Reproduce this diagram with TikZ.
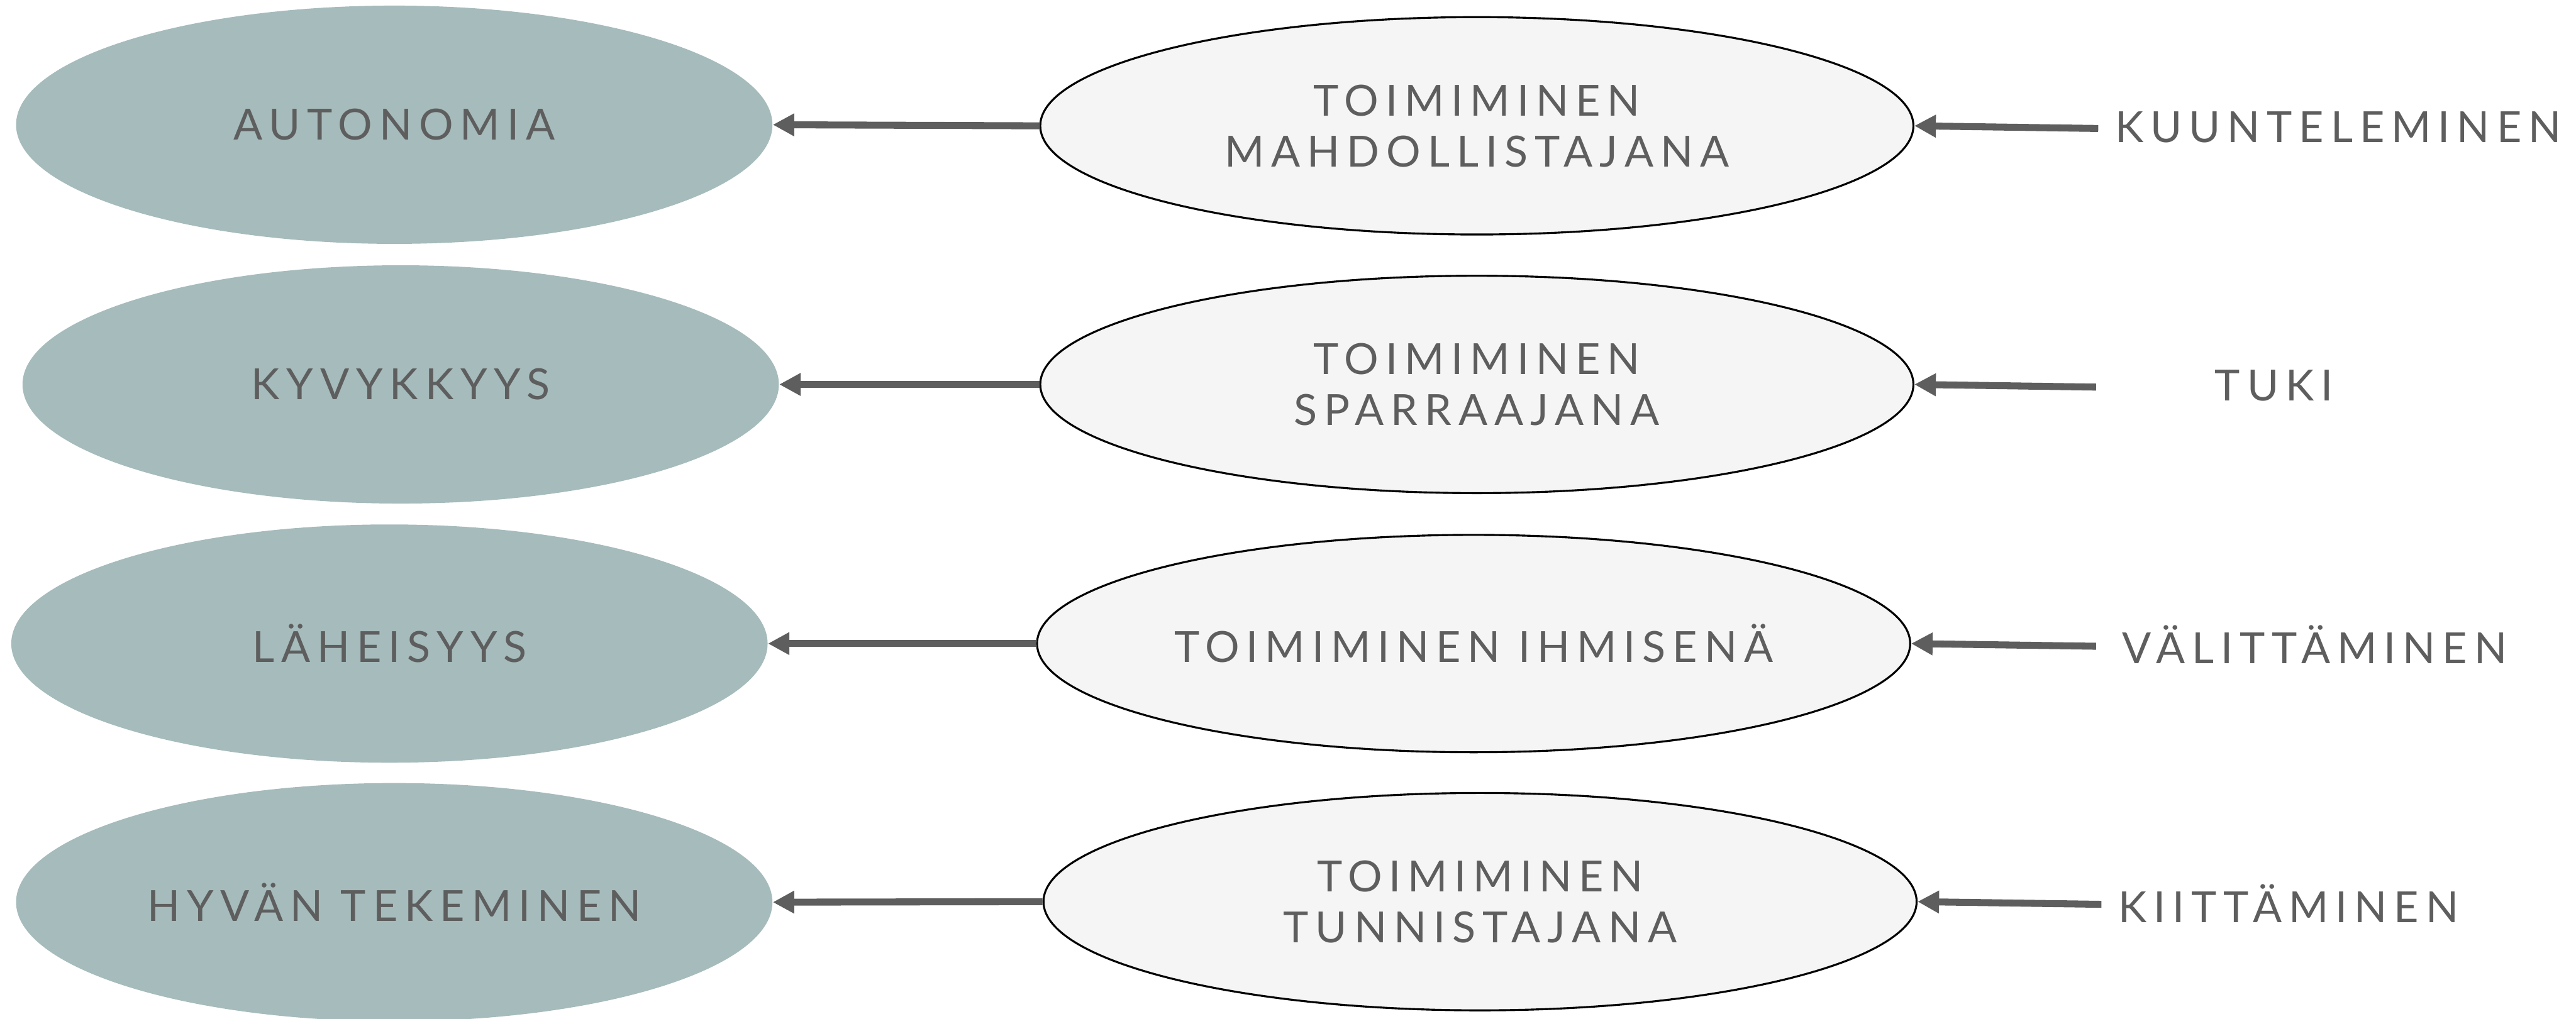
\documentclass[tikz,border=0pt]{standalone}
\usepackage{fontspec}
\setmainfont{Lato}
\newfontfamily\spaced{Lato}[LetterSpace=16]
\usetikzlibrary{shapes.geometric,arrows.meta}
\definecolor{sage}{HTML}{A6BBBB}
\definecolor{ink}{HTML}{5E5E5E}
\definecolor{pale}{HTML}{F5F5F5}
\begin{document}
\begin{tikzpicture}[x=1cm,y=1cm,
  goal/.style={ellipse, fill=sage, minimum width=14.12cm, minimum height=4.45cm, inner sep=0pt},
  role/.style={ellipse, draw=black, line width=1.05pt, fill=pale, minimum width=16.3cm, minimum height=4.06cm, align=center, inner sep=0pt},
  word/.style={text=ink, font=\spaced\fontsize{22.8}{27}\selectfont},
  link/.style={draw=ink, line width=3.7pt, -{Triangle[length=0.4cm,width=0.4cm]}}
]
\useasboundingbox (0,0) rectangle (48.09,19.02);

% outcomes on the left
\node[goal, word] (g1) at (7.36,16.69) {AUTONOMIA};
\node[goal, word] (g2) at (7.48,11.84) {KYVYKKYYS};
\node[goal, word] (g3) at (7.27,7.00) {LÄHEISYYS};
\node[goal, word] (g4) at (7.36,2.17) {HYVÄN TEKEMINEN};

% roles in the middle
\node[role, word] (r1) at (27.57,16.67) {TOIMIMINEN\\MAHDOLLISTAJANA};
\node[role, word] (r2) at (27.57,11.84) {TOIMIMINEN\\SPARRAAJANA};
\node[role, word] (r3) at (27.51,7.00) {TOIMIMINEN IHMISENÄ};
\node[role, word] (r4) at (27.63,2.18) {TOIMIMINEN\\TUNNISTAJANA};

% actions on the right
\node[word, anchor=west] (a1) at (39.36,16.64) {KUUNTELEMINEN};
\node[word] (a2) at (42.45,11.82) {TUKI};
\node[word, anchor=west] (a3) at (39.50,6.98) {VÄLITTÄMINEN};
\node[word, anchor=west] (a4) at (39.42,2.15) {KIITTÄMINEN};

\coordinate (s1) at (39.17,16.62);
\coordinate (s2) at (39.13,11.79);
\coordinate (s3) at (39.13,6.95);
\coordinate (s4) at (39.23,2.13);

% connectors
\foreach \i in {1,2,3,4}{
  \draw[link] (r\i.west) -- (g\i.east);
  \draw[link] (s\i) -- (r\i.east);
}
\end{tikzpicture}
\end{document}
